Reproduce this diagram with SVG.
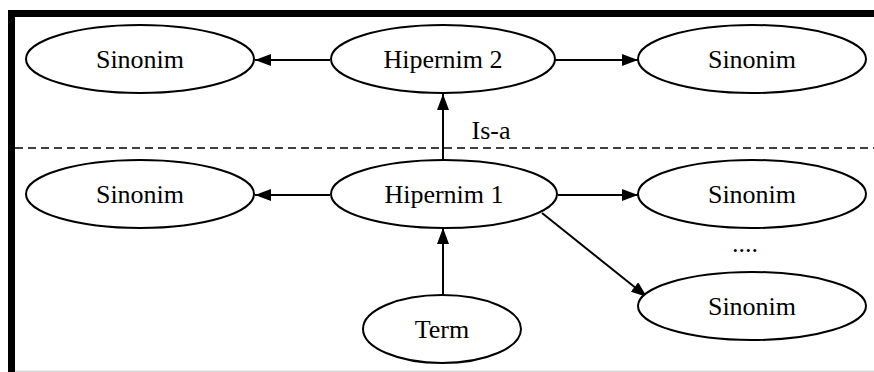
<svg xmlns="http://www.w3.org/2000/svg" width="874" height="372" viewBox="0 0 874 372">
  <style>
    .node ellipse { fill: #fff; stroke: #000; stroke-width: 2; }
    .node text, .label { font-family: "Liberation Serif", "Times New Roman", serif; font-size: 26px; fill: #000; text-anchor: middle; }
    .edge { stroke: #000; stroke-width: 2; fill: none; marker-end: url(#arrow); }
  </style>
  <defs>
    <marker id="arrow" viewBox="0 0 16 12" refX="16" refY="6" markerWidth="16" markerHeight="12" markerUnits="userSpaceOnUse" orient="auto">
      <path d="M0,0 L16,6 L0,12 z" fill="#000"/>
    </marker>
  </defs>

  <rect width="874" height="372" fill="#fff"/>

  <!-- frame -->
  <rect x="8" y="10" width="866" height="7" fill="#000"/>
  <rect x="8" y="10" width="7" height="362" fill="#000"/>
  <rect x="15" y="370.5" width="859" height="1.5" fill="#d8d8d8"/>

  <!-- level separator -->
  <line x1="15" y1="148" x2="874" y2="148" stroke="#000" stroke-width="1.5" stroke-dasharray="8,5"/>

  <g id="connectors">
    <line class="edge" x1="330" y1="60" x2="255" y2="60"/>
    <line class="edge" x1="555" y1="60" x2="638" y2="60"/>
    <line class="edge" x1="443" y1="160" x2="443" y2="94"/>
    <line class="edge" x1="330" y1="195" x2="255" y2="195"/>
    <line class="edge" x1="558" y1="195" x2="638" y2="195"/>
    <line class="edge" x1="542" y1="213" x2="647" y2="297"/>
    <line class="edge" x1="443" y1="295" x2="443" y2="228"/>
    <text class="label" x="491" y="139">Is-a</text>
    <text class="label" x="745" y="252">....</text>
  </g>

  <g id="sinonim-top-left" class="node">
    <ellipse cx="140" cy="59" rx="114" ry="34"/>
    <text x="140" y="68">Sinonim</text>
  </g>
  <g id="hipernim-2" class="node">
    <ellipse cx="443" cy="59" rx="112" ry="34"/>
    <text x="443" y="68">Hipernim 2</text>
  </g>
  <g id="sinonim-top-right" class="node">
    <ellipse cx="752" cy="59" rx="114" ry="34"/>
    <text x="752" y="68">Sinonim</text>
  </g>
  <g id="sinonim-mid-left" class="node">
    <ellipse cx="140" cy="194" rx="114" ry="34"/>
    <text x="140" y="203">Sinonim</text>
  </g>
  <g id="hipernim-1" class="node">
    <ellipse cx="444" cy="194" rx="113" ry="34"/>
    <text x="444" y="203">Hipernim 1</text>
  </g>
  <g id="sinonim-mid-right" class="node">
    <ellipse cx="752" cy="194" rx="114" ry="34"/>
    <text x="752" y="203">Sinonim</text>
  </g>
  <g id="sinonim-low-right" class="node">
    <ellipse cx="752" cy="306" rx="114" ry="34"/>
    <text x="752" y="315">Sinonim</text>
  </g>
  <g id="term" class="node">
    <ellipse cx="442" cy="329" rx="79" ry="34"/>
    <text x="442" y="338">Term</text>
  </g>
</svg>
